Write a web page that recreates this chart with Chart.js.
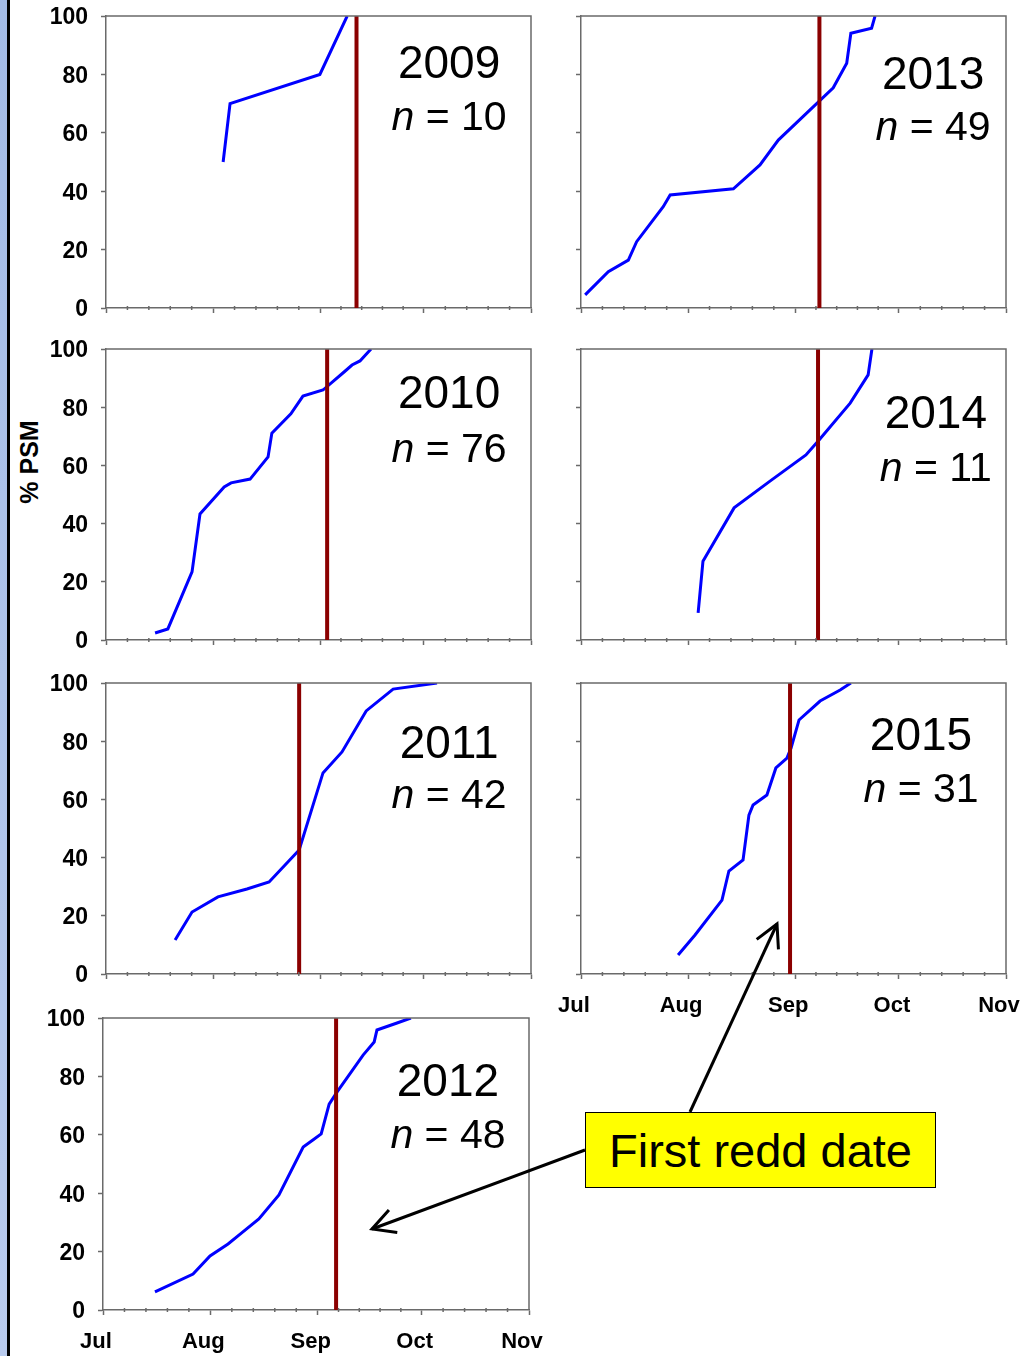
<!DOCTYPE html>
<html>
<head>
<meta charset="utf-8">
<script src="https://cdn.jsdelivr.net/npm/chart.js@4.4.0/dist/chart.umd.min.js"></script>
<style>
  body { margin: 0; background: #fff; width: 1035px; height: 1356px; position: relative; overflow: hidden;
         font-family: "Liberation Sans", Arial, sans-serif; }
  canvas { position: absolute; }
  #strip { position: absolute; left: 0; top: 0; width: 7px; height: 1356px; background: linear-gradient(to bottom, #a3bbe6, #b9cbee); }
  #edge { position: absolute; left: 7px; top: 0; width: 3px; height: 1356px; background: #000; }
  #ytitle { position: absolute; left: 29px; top: 462px; transform: translate(-50%, -50%) rotate(-90deg);
            font-weight: bold; font-size: 25px; white-space: nowrap; }
  #arrows { position: absolute; left: 0; top: 0; z-index: 5; }
  #note { position: absolute; left: 585px; top: 1112px; width: 349px; height: 74px; background: #ffff00;
          border: 1.5px solid #000; z-index: 6; font-size: 47px; line-height: 76px; text-align: center; }
</style>
</head>
<body>
<div id="strip"></div>
<div id="edge"></div>
<div id="ytitle">% PSM</div>
<svg id="arrows" width="1035" height="1356">
  <defs>
    <marker id="head" markerWidth="9" markerHeight="9" refX="8" refY="4.5" orient="auto" markerUnits="strokeWidth">
      <path d="M0.5,0.5 L8,4.5 L0.5,8.5" fill="none" stroke="#000" stroke-width="1"/>
    </marker>
  </defs>
  <line x1="690" y1="1112" x2="777" y2="924" stroke="#000" stroke-width="3" marker-end="url(#head)"/>
  <line x1="585" y1="1150" x2="372" y2="1229" stroke="#000" stroke-width="3" marker-end="url(#head)"/>
</svg>
<div id="note">First redd date</div>
<script>
// x values are days after 1 July; y values are % PSM
const monthLabels = ['Jul', 'Aug', 'Sep', 'Oct', 'Nov'];
const monthStarts = [0, 31, 62, 92, 123];
const yTicks = [0, 20, 40, 60, 80, 100];

const days2009 = [33.9, 35.9, 61.9, 69.8];
const psm2009  = [50, 70, 80, 100];

const days2010 = [14.2, 17.9, 24.9, 27.2, 34.2, 36.2, 41.7, 46.9, 48.0, 53.5, 57.0, 62.8, 68.9, 71.2, 73.5, 76.7];
const psm2010  = [2.4, 3.8, 23.4, 43.3, 52.6, 54.0, 55.3, 62.9, 71.1, 77.7, 83.8, 85.9, 92.1, 94.5, 95.9, 100];

const days2011 = [20.0, 24.9, 32.4, 40.8, 47.2, 55.9, 62.8, 68.3, 75.3, 83.1, 95.8];
const psm2011  = [11.7, 21.3, 26.5, 29.2, 31.6, 42.6, 69.1, 76.3, 90.4, 97.9, 100];

const days2012 = [15.0, 26.0, 30.9, 36.1, 39.6, 45.0, 50.8, 57.8, 60.6, 63.0, 65.3, 67.6, 75.1, 78.3, 79.1, 84.9, 88.9];
const psm2012  = [6.2, 12.3, 18.5, 22.6, 26.0, 31.2, 39.4, 55.8, 58.2, 60.3, 70.5, 74.7, 87.3, 91.8, 95.9, 98.3, 100];

const days2013 = [1.2, 7.9, 13.7, 16.1, 23.8, 25.8, 44.1, 51.8, 57.1, 73.0, 76.9, 78.1, 84.1, 85.1];
const psm2013  = [4.5, 12.4, 16.4, 22.7, 34.7, 38.7, 40.8, 49.0, 57.5, 75.4, 83.8, 94.1, 95.8, 100];

const days2014 = [33.9, 35.3, 44.3, 54.7, 65.1, 68.9, 77.9, 83.1, 84.2];
const psm2014  = [9.3, 27.1, 45.4, 54.6, 63.6, 68.7, 81.4, 91.1, 100];

const days2015 = [28.1, 33.0, 40.8, 42.8, 46.9, 48.6, 49.8, 53.8, 56.4, 59.6, 60.8, 63.1, 69.2, 75.0, 78.1];
const psm2015  = [6.5, 13.4, 25.4, 35.4, 39.2, 54.6, 58.1, 61.5, 70.8, 74.2, 77.7, 87.3, 93.8, 97.6, 100];

const years        = [2009, 2010, 2011, 2012, 2013, 2014, 2015];
const sampleSizes  = [10, 76, 42, 48, 49, 11, 31];
const firstReddDay = [72.5, 64.0, 55.9, 67.3, 69.0, 68.6, 60.5];

const series = {
  2009: [days2009, psm2009], 2010: [days2010, psm2010], 2011: [days2011, psm2011],
  2012: [days2012, psm2012], 2013: [days2013, psm2013], 2014: [days2014, psm2014],
  2015: [days2015, psm2015]
};

// panel plot rectangles on the page and where the year label sits (in data units)
const panels = {
  2009: { l: 106, t: 16,   r: 531,  b: 308,  yLab: true,  xLab: false, lx: 99.3,  ly: [78.8, 61.0] },
  2010: { l: 106, t: 349,  r: 531,  b: 640,  yLab: true,  xLab: false, lx: 99.3,  ly: [79.7, 61.2] },
  2011: { l: 106, t: 683,  r: 531,  b: 974,  yLab: true,  xLab: false, lx: 99.3,  ly: [74.2, 57.0] },
  2012: { l: 103, t: 1018, r: 529,  b: 1310, yLab: true,  xLab: true,  lx: 99.6,  ly: [73.3, 55.5] },
  2013: { l: 581, t: 16,   r: 1006, b: 308,  yLab: false, xLab: false, lx: 101.9, ly: [75.0, 57.5] },
  2014: { l: 581, t: 349,  r: 1006, b: 640,  yLab: false, xLab: false, lx: 102.7, ly: [72.9, 54.6] },
  2015: { l: 581, t: 683,  r: 1006, b: 974,  yLab: false, xLab: true,  lx: 98.4,  ly: [77.0, 59.1] }
};

const AXIS = '#6a6a6a';
const FONT = '"Liberation Sans", Arial, sans-serif';
const PADL = 70, PADT = 12, PADR = 30, PADB = 50;

const framePlugin = {
  id: 'frame',
  afterDraw(chart) {
    const { ctx, chartArea: a, scales: { x } } = chart;
    ctx.save();
    ctx.strokeStyle = AXIS;
    ctx.lineWidth = 1.5;
    ctx.beginPath();
    ctx.moveTo(a.left, a.top); ctx.lineTo(a.right, a.top); ctx.lineTo(a.right, a.bottom);
    // minor ticks, five per month
    for (let i = 0; i < monthStarts.length - 1; i++) {
      for (let k = 1; k < 5; k++) {
        const v = monthStarts[i] + (monthStarts[i + 1] - monthStarts[i]) * k / 5;
        const px = x.getPixelForValue(v);
        ctx.moveTo(px, a.bottom - 2); ctx.lineTo(px, a.bottom + 2);
      }
    }
    ctx.stroke();
    ctx.restore();
  }
};

const labelPlugin = {
  id: 'yearLabel',
  afterDraw(chart, args, opts) {
    const { ctx, scales: { x, y } } = chart;
    const cx = x.getPixelForValue(opts.lx);
    ctx.save();
    ctx.fillStyle = '#000';
    ctx.textBaseline = 'alphabetic';
    ctx.textAlign = 'center';
    ctx.font = '46px ' + FONT;
    ctx.fillText(String(opts.year), cx, y.getPixelForValue(opts.ly[0]));
    // "n = xx" with italic n
    const rest = ' = ' + opts.n;
    ctx.font = 'italic 41px ' + FONT;
    const wn = ctx.measureText('n').width;
    ctx.font = '41px ' + FONT;
    const wr = ctx.measureText(rest).width;
    const x0 = cx - (wn + wr) / 2;
    const by = y.getPixelForValue(opts.ly[1]);
    ctx.textAlign = 'left';
    ctx.font = 'italic 41px ' + FONT;
    ctx.fillText('n', x0, by);
    ctx.font = '41px ' + FONT;
    ctx.fillText(rest, x0 + wn, by);
    ctx.restore();
  }
};

years.forEach((year, idx) => {
  const p = panels[year];
  const [days, psm] = series[year];
  const cv = document.createElement('canvas');
  cv.width = p.r - p.l + PADL + PADR;
  cv.height = p.b - p.t + PADT + PADB;
  cv.style.left = (p.l - PADL) + 'px';
  cv.style.top = (p.t - PADT) + 'px';
  document.body.appendChild(cv);

  new Chart(cv, {
    type: 'line',
    data: {
      datasets: [
        {
          data: [{ x: firstReddDay[idx], y: 0 }, { x: firstReddDay[idx], y: 100 }],
          borderColor: '#8b0000', borderWidth: 4, pointRadius: 0
        },
        {
          data: days.map((d, i) => ({ x: d, y: psm[i] })),
          borderColor: '#0000ff', borderWidth: 3, pointRadius: 0, tension: 0
        }
      ]
    },
    options: {
      responsive: false,
      animation: false,
      devicePixelRatio: 1,
      layout: { padding: { top: PADT, right: PADR, left: 0, bottom: 0 } },
      plugins: {
        legend: { display: false },
        tooltip: { enabled: false },
        yearLabel: { year: year, n: sampleSizes[idx], lx: p.lx, ly: p.ly }
      },
      scales: {
        x: {
          type: 'linear', min: 0, max: 123,
          afterBuildTicks: s => { s.ticks = monthStarts.map(v => ({ value: v })); },
          afterFit: s => { s.height = PADB; s.paddingLeft = 0; s.paddingRight = 0; },
          grid: { drawOnChartArea: false, drawTicks: true, tickLength: 5, tickColor: AXIS, tickWidth: 1.5 },
          border: { color: AXIS, width: 1.5 },
          ticks: {
            display: p.xLab, autoSkip: false, maxRotation: 0, padding: 14, labelOffset: -7,
            color: '#000', font: { family: FONT, size: 22, weight: 'bold' },
            callback: (v, i) => monthLabels[i]
          }
        },
        y: {
          min: 0, max: 100,
          afterBuildTicks: s => { s.ticks = yTicks.map(v => ({ value: v })); },
          afterFit: s => { s.width = PADL; s.paddingTop = 0; s.paddingBottom = 0; },
          grid: { drawOnChartArea: false, drawTicks: true, tickLength: 5, tickColor: AXIS, tickWidth: 1.5 },
          border: { color: AXIS, width: 1.5 },
          ticks: {
            display: p.yLab, padding: 13, labelOffset: 2,
            color: '#000', font: { family: FONT, size: 23, weight: 'bold' }
          }
        }
      }
    },
    plugins: [framePlugin, labelPlugin]
  });
});
</script>
</body>
</html>
